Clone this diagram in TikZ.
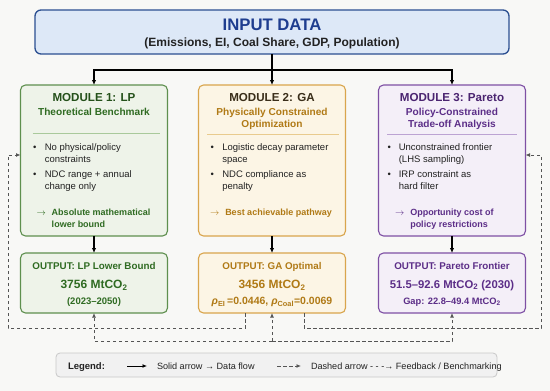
\documentclass[tikz,border=0pt]{standalone}
\usepackage{fontspec}
\setmainfont{Liberation Sans}
\usetikzlibrary{arrows.meta,positioning}

\definecolor{bgc}{HTML}{F8F8F6}
\definecolor{txt}{HTML}{222222}
\definecolor{indraw}{HTML}{2B4F91}
\definecolor{infill}{HTML}{DDE8F7}
\definecolor{intext}{HTML}{1E3D8F}
\definecolor{lpdraw}{HTML}{5E8F4E}
\definecolor{lpfill}{HTML}{EEF3E9}
\definecolor{lptitle}{HTML}{24501A}
\definecolor{lptext}{HTML}{2F6B22}
\definecolor{lpsep}{HTML}{A9C99B}
\definecolor{gadraw}{HTML}{D9A54C}
\definecolor{gafill}{HTML}{FCF5E5}
\definecolor{gatitle}{HTML}{3A2E1A}
\definecolor{gatext}{HTML}{B07A16}
\definecolor{gasep}{HTML}{E9CB8E}
\definecolor{padraw}{HTML}{7E50A4}
\definecolor{pafill}{HTML}{F4EFF8}
\definecolor{patitle}{HTML}{4A2470}
\definecolor{patext}{HTML}{5C2E88}
\definecolor{pasep}{HTML}{BCA3D3}
\definecolor{fbgray}{HTML}{555555}
\definecolor{legfill}{HTML}{F1F1F1}
\definecolor{legdraw}{HTML}{C8C8C8}

\begin{document}
\begin{tikzpicture}[
  x=1pt, y=-1pt,
  every node/.style={inner sep=0pt, outer sep=0pt},
  box/.style={rectangle, rounded corners=5pt, line width=1.1pt, minimum width=147pt},
  modbox/.style={box, minimum height=151pt},
  outbox/.style={box, minimum height=60pt},
  lpb/.style={draw=lpdraw, fill=lpfill},
  gab/.style={draw=gadraw, fill=gafill},
  pab/.style={draw=padraw, fill=pafill},
  modtitle/.style={anchor=base, font=\fontsize{11.6}{13}\selectfont\bfseries},
  modsub/.style={anchor=north, align=center, font=\fontsize{10.1}{12}\selectfont\bfseries},
  bullets/.style={anchor=north west, text=txt, font=\fontsize{9.5}{12}\selectfont},
  takeaway/.style={anchor=north west, font=\fontsize{9}{12}\selectfont\bfseries},
  outtitle/.style={anchor=base, font=\fontsize{9.8}{12}\selectfont\bfseries},
  outval/.style={anchor=base, font=\fontsize{12}{14}\selectfont\bfseries},
  outnote/.style={anchor=base, font=\fontsize{9.5}{12}\selectfont\bfseries},
  sep/.style={line width=0.9pt},
  arr/.style={-{Latex[length=5pt,width=4.5pt]}, line width=1.1pt},
  fb/.style={-{Latex[length=4.5pt,width=4pt]}, line width=0.9pt, dash pattern=on 3.5pt off 2.5pt, draw=fbgray},
  legtext/.style={anchor=base west, text=txt, font=\fontsize{9.1}{11}\selectfont}
]
\path[use as bounding box, fill=bgc] (0,0) rectangle (550,391);

% input
\node[box, draw=indraw, fill=infill, rounded corners=6pt, line width=1.3pt,
      minimum width=474pt, minimum height=44pt] (in) at (272,32) {};
\node[anchor=base, text=intext, font=\fontsize{16.7}{18}\selectfont\bfseries] (intitle)
  at ([yshift=-20pt]in.north) {INPUT DATA};
\node[anchor=base, text=txt, font=\fontsize{12}{14}\selectfont\bfseries] (insub)
  at ([yshift=-36.3pt]in.north) {(Emissions, EI, Coal Share, GDP, Population)};

% modules
\node[modbox, lpb] (lp) at (94,160.5) {};
\node[modbox, gab] (ga) at (272,160.5) {};
\node[modbox, pab] (pa) at (452,160.5) {};

\node[modtitle, text=lptitle] (lpt) at ([yshift=-16.1pt]lp.north) {MODULE 1: LP};
\node[modsub, text=lptext] (lps) at ([yshift=-23.3pt]lp.north) {Theoretical Benchmark};
\draw[sep, draw=lpsep] ([xshift=12pt,yshift=-48pt]lp.north west) -- ([xshift=-8pt,yshift=-48pt]lp.north east);
\node[bullets] (lpitems) at ([xshift=12.5pt,yshift=-56.6pt]lp.north west) {\begin{tabular}{@{}l@{\hspace{8.5pt}}l@{}}
  \textbullet & No physical/policy\\ & constraints\\[3pt]
  \textbullet & NDC range + annual\\ & change only
\end{tabular}};
\node[takeaway, text=lptext] (lpkey) at ([xshift=16pt,yshift=-121.6pt]lp.north west) {\begin{tabular}{@{}l@{\hspace{6pt}}l@{}}
  $\rightarrow$ & Absolute mathematical\\ & lower bound
\end{tabular}};

\node[modtitle, text=gatitle] (gat) at ([yshift=-16.1pt]ga.north) {MODULE 2: GA};
\node[modsub, text=gatext] (gas) at ([yshift=-23.3pt]ga.north) {Physically Constrained\\ Optimization};
\draw[sep, draw=gasep] ([xshift=8.5pt,yshift=-49pt]ga.north west) -- ([xshift=-6.5pt,yshift=-49pt]ga.north east);
\node[bullets] (gaitems) at ([xshift=12pt,yshift=-56.6pt]ga.north west) {\begin{tabular}{@{}l@{\hspace{8.5pt}}l@{}}
  \textbullet & Logistic decay parameter\\ & space\\[3pt]
  \textbullet & NDC compliance as\\ & penalty
\end{tabular}};
\node[takeaway, text=gatext] (gakey) at ([xshift=11.5pt,yshift=-121.6pt]ga.north west) {\begin{tabular}{@{}l@{\hspace{6pt}}l@{}}
  $\rightarrow$ & Best achievable pathway
\end{tabular}};

\node[modtitle, text=patitle] (pat) at ([yshift=-16.1pt]pa.north) {MODULE 3: Pareto};
\node[modsub, text=patext] (pas) at ([yshift=-23.3pt]pa.north) {Policy-Constrained\\ Trade-off Analysis};
\draw[sep, draw=pasep] ([xshift=8.5pt,yshift=-49pt]pa.north west) -- ([xshift=-8.5pt,yshift=-49pt]pa.north east);
\node[bullets] (paitems) at ([xshift=9pt,yshift=-56.6pt]pa.north west) {\begin{tabular}{@{}l@{\hspace{8pt}}l@{}}
  \textbullet & Unconstrained frontier\\ & (LHS sampling)\\[3pt]
  \textbullet & IRP constraint as\\ & hard filter
\end{tabular}};
\node[takeaway, text=patext] (pakey) at ([xshift=16.5pt,yshift=-121.6pt]pa.north west) {\begin{tabular}{@{}l@{\hspace{6pt}}l@{}}
  $\rightarrow$ & Opportunity cost of\\ & policy restrictions
\end{tabular}};

% outputs
\node[outbox, lpb] (lpo) at (94,283) {};
\node[outbox, gab] (gao) at (272,283) {};
\node[outbox, pab] (pao) at (452,283) {};

\node[outtitle, text=lptext] (lpot) at ([yshift=-16.5pt]lpo.north) {OUTPUT: LP Lower Bound};
\node[outval, text=lptext] (lpov) at ([yshift=-35.3pt]lpo.north) {3756 MtCO\textsubscript{2}};
\node[outnote, text=lptext] (lpon) at ([yshift=-51.4pt]lpo.north) {(2023–2050)};

\node[outtitle, text=gatext] (gaot) at ([yshift=-16.5pt]gao.north) {OUTPUT: GA Optimal};
\node[outval, text=gatext] (gaov) at ([yshift=-35.3pt]gao.north) {3456 MtCO\textsubscript{2}};
\node[outnote, text=gatext, font=\fontsize{10.5}{12}\selectfont\bfseries] (gaon) at ([yshift=-51.8pt]gao.north)
  {\textit{ρ}\textsubscript{EI}\,=0.0446, \textit{ρ}\textsubscript{Coal}=0.0069};

\node[outtitle, text=patext] (paot) at ([yshift=-16.5pt]pao.north) {OUTPUT: Pareto Frontier};
\node[outval, text=patext, font=\fontsize{11.3}{14}\selectfont\bfseries] (paov) at ([yshift=-35pt]pao.north) {51.5–92.6 MtCO\textsubscript{2} (2030)};
\node[outnote, text=patext, font=\fontsize{9.3}{12}\selectfont\bfseries] (paon) at ([yshift=-51.3pt]pao.north) {Gap: 22.8–49.4 MtCO\textsubscript{2}};

% data flow
\coordinate (br) at (272,70);
\draw[arr] (in.south) -- (ga.north);
\draw[arr] (br) -| (lp.north);
\draw[arr] (br) -| (pa.north);
\draw[arr] (lp) -- (lpo);
\draw[arr] (ga) -- (gao);
\draw[arr] (pa) -- (pao);

% feedback / benchmarking
\coordinate (fbl) at (8,328);
\coordinate (fbr) at (541,328);
\coordinate (bus) at (272,341);
\draw[fb] ([xshift=-27pt]gao.south) |- (fbl) |- ([yshift=5.5pt]lp.west);
\draw[fb] ([xshift=32pt]gao.south) |- (fbr) |- ([yshift=5.5pt]pa.east);
\draw[fb] (bus) -| (lpo.south);
\draw[fb] (bus) -| (pao.south);
\draw[fb] (bus) -- (gao.south);

% legend
\node[rectangle, rounded corners=4pt, draw=legdraw, fill=legfill, line width=0.8pt,
      minimum width=441pt, minimum height=24pt] (legend) at (276.5,365) {};
\node[legtext, font=\fontsize{9.5}{11}\selectfont\bfseries] (legkey) at (68,369.3) {Legend:};
\coordinate (ls1) at (127,366);
\coordinate (ls2) at (147,366);
\draw[-{Latex[length=4.5pt,width=4pt]}, line width=0.9pt] (ls1) -- (ls2);
\node[legtext] (lstext) at (157,369.3) {Solid arrow → Data flow};
\coordinate (ld1) at (277,366);
\coordinate (ld2) at (301,366);
\draw[fb] (ld1) -- (ld2);
\node[legtext] (ldtext) at (311,369.3) {Dashed arrow - - -→ Feedback / Benchmarking};
\end{tikzpicture}
\end{document}
